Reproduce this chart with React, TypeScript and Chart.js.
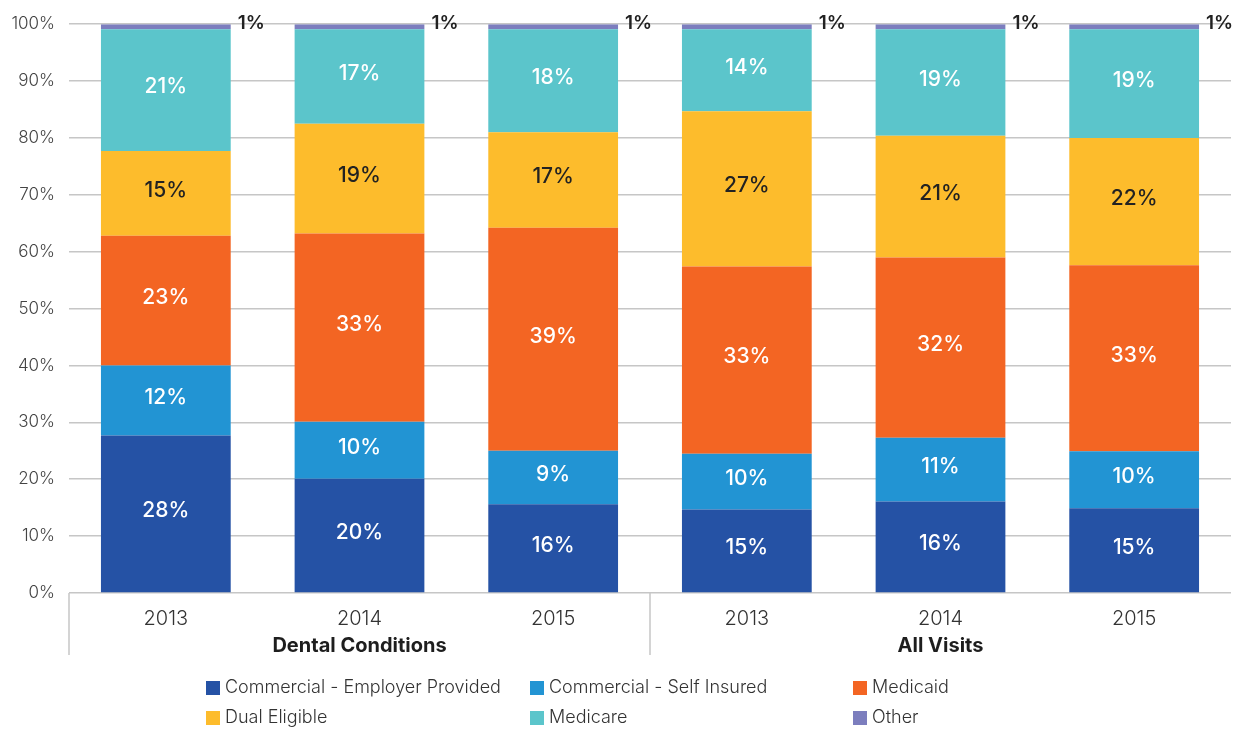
import React, { useEffect, useRef } from "react";
import { Chart, registerables } from "chart.js";

Chart.register(...registerables);

const categories = ["2013", "2014", "2015", "2013", "2014", "2015"];
const groupLabels = ["Dental Conditions", "All Visits"];
const groupStarts = [0, 3];
const groupEnds = [2, 5];

const seriesNames = [
  "Commercial - Employer Provided",
  "Commercial - Self Insured",
  "Medicaid",
  "Dual Eligible",
  "Medicare",
  "Other",
];
const employerProvided = [27.7, 20.1, 15.6, 14.7, 16.1, 14.9];
const selfInsured = [12.3, 10.0, 9.4, 9.8, 11.2, 10.0];
const medicaid = [22.8, 33.1, 39.2, 32.9, 31.7, 32.7];
const dualEligible = [14.9, 19.3, 16.8, 27.3, 21.4, 22.4];
const medicare = [21.4, 16.6, 18.1, 14.4, 18.7, 19.1];
const other = [0.9, 0.9, 0.9, 0.9, 0.9, 0.9];
const yTicks = [0, 10, 20, 30, 40, 50, 60, 70, 80, 90, 100];

const colors = ["#2552A5", "#2294D3", "#F36523", "#FDBC2C", "#5BC5CB", "#7C7EBE"];
const labelColors = ["#ffffff", "#ffffff", "#ffffff", "#222222", "#ffffff", "#222222"];

const FONT = "Inter, 'Noto Sans', sans-serif";
const GRID = "#c6c6c6";

const customPlugin = {
  id: "custom",
  afterDatasetsDraw(chart: any) {
    const ctx = chart.ctx;
    ctx.save();
    chart.data.datasets.forEach((ds: any, di: number) => {
      const meta = chart.getDatasetMeta(di);
      meta.data.forEach((bar: any, i: number) => {
        const v = ds.data[i];
        const txt = Math.round(v) + "%";
        ctx.textBaseline = "middle";
        if (di === chart.data.datasets.length - 1) {
          ctx.font = `600 19px ${FONT}`;
          ctx.fillStyle = labelColors[di];
          ctx.textAlign = "left";
          ctx.fillText(txt, bar.x + bar.width / 2 + 7, (bar.y + bar.base) / 2 - 3);
        } else {
          ctx.font = `500 21px ${FONT}`;
          ctx.fillStyle = labelColors[di];
          ctx.textAlign = "center";
          ctx.fillText(txt, bar.x, (bar.y + bar.base) / 2 - 3);
        }
      });
    });
    ctx.restore();
  },
  afterDraw(chart: any) {
    const ctx = chart.ctx;
    const xs = chart.scales.x;
    const area = chart.chartArea;
    ctx.save();
    // year labels
    ctx.font = `300 20px ${FONT}`;
    ctx.fillStyle = "#333333";
    ctx.textAlign = "center";
    ctx.textBaseline = "middle";
    categories.forEach((c, i) => {
      ctx.fillText(c, xs.getPixelForValue(i), area.bottom + 26);
    });
    // group labels
    ctx.font = `700 20px ${FONT}`;
    ctx.fillStyle = "#1e1e1e";
    groupLabels.forEach((g, gi) => {
      const cx = (xs.getPixelForValue(groupStarts[gi]) + xs.getPixelForValue(groupEnds[gi])) / 2;
      ctx.fillText(g, cx, area.bottom + 53);
    });
    // separators
    ctx.strokeStyle = GRID;
    ctx.lineWidth = 1.5;
    const seps = [area.left];
    for (let gi = 1; gi < groupStarts.length; gi++) {
      seps.push((xs.getPixelForValue(groupStarts[gi] - 1) + xs.getPixelForValue(groupStarts[gi])) / 2);
    }
    seps.forEach((sx) => {
      ctx.beginPath();
      ctx.moveTo(sx, area.bottom);
      ctx.lineTo(sx, area.bottom + 62);
      ctx.stroke();
    });
    // legend
    const cols = [206, 530, 853];
    const rows = [688, 718];
    ctx.font = `300 18px ${FONT}`;
    ctx.textAlign = "left";
    chart.data.datasets.forEach((ds: any, di: number) => {
      const cx = cols[di % 3];
      const cy = rows[Math.floor(di / 3)];
      ctx.fillStyle = ds.backgroundColor;
      ctx.fillRect(cx, cy - 7, 14, 14);
      ctx.fillStyle = "#333333";
      ctx.fillText(ds.label, cx + 19, cy);
    });
    ctx.restore();
  },
};

export default function App() {
  const ref = useRef<HTMLCanvasElement>(null);
  useEffect(() => {
    if (!ref.current) return;
    const seriesData = [employerProvided, selfInsured, medicaid, dualEligible, medicare, other];
    const chart = new Chart(ref.current, {
      type: "bar",
      data: {
        labels: categories,
        datasets: seriesData.map((d, i) => ({
          label: seriesNames[i],
          data: d,
          backgroundColor: colors[i],
          borderWidth: 0,
          barPercentage: 0.67,
          categoryPercentage: 1.0,
        })),
      },
      options: {
        responsive: false,
        animation: false,
        layout: { padding: { top: 22, right: 2, left: 0, bottom: 0 } },
        plugins: {
          legend: { display: false },
          tooltip: { enabled: false },
        },
        scales: {
          x: {
            stacked: true,
            grid: { display: false },
            border: { display: false },
            ticks: { display: false },
            afterFit: (s: any) => {
              s.height = 137;
            },
          },
          y: {
            stacked: true,
            min: 0,
            max: 100,
            afterBuildTicks: (s: any) => {
              s.ticks = yTicks.map((v) => ({ value: v }));
            },
            afterFit: (s: any) => {
              s.width = 69;
            },
            grid: { color: GRID, lineWidth: 1.5, drawTicks: false },
            border: { display: false },
            ticks: {
              padding: 14,
              color: "#444444",
              font: { family: FONT, size: 17, weight: 300 },
              callback: (v: any) => v + "%",
            },
          },
        },
      },
      plugins: [customPlugin],
    });
    return () => chart.destroy();
  }, []);
  return (
    <div style={{ position: "absolute", left: 0, top: 0, width: 1233, height: 730, background: "#fff" }}>
      <canvas ref={ref} width={1233} height={730} style={{ display: "block" }} />
    </div>
  );
}
